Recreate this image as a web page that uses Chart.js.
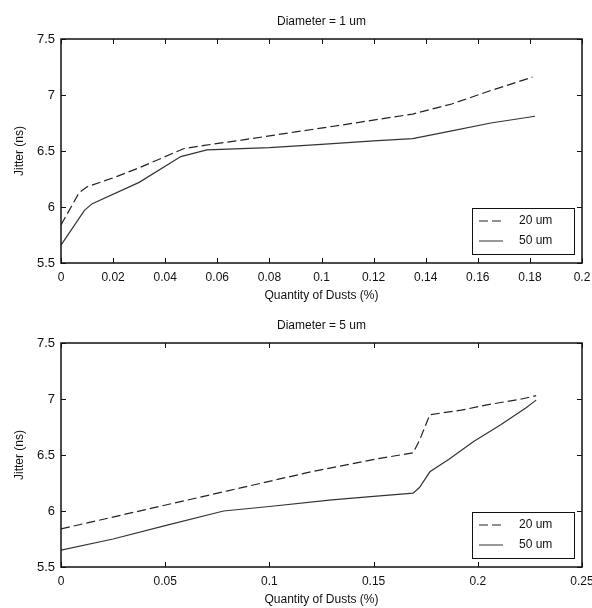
<html>
  <head>
    <title>Jitter vs Quantity of Dusts</title>
    <style>
      body {
        margin: 0;
        background: white;
        font-family: "Liberation Sans", Arial, sans-serif;
      }
      .plot {
        position: relative;
        width: 592px;
        height: 304px;
      }
    </style>
  </head>
  <body>
    <div class="plot"><canvas id="chartTop"></canvas></div>
    <div class="plot"><canvas id="chartBottom"></canvas></div>
    <script src="https://cdn.jsdelivr.net/npm/chart.js@4/dist/chart.umd.min.js"></script>
    <script>
      const seriesNames = ['20 um', '50 um'];
      const yTicks = [5.5, 6, 6.5, 7, 7.5];
      const yTickLabels = ['5.5', '6', '6.5', '7', '7.5'];

      // Diameter = 1 um
      const topXTicks = [0, 0.02, 0.04, 0.06, 0.08, 0.1, 0.12, 0.14, 0.16, 0.18, 0.2];
      const topXTickLabels = ['0', '0.02', '0.04', '0.06', '0.08', '0.1', '0.12', '0.14', '0.16', '0.18', '0.2'];
      const topX20 = [0, 0.007, 0.01, 0.02, 0.03, 0.047, 0.055, 0.07, 0.09, 0.11, 0.135, 0.15, 0.165, 0.181];
      const topY20 = [5.84, 6.13, 6.18, 6.26, 6.35, 6.52, 6.55, 6.6, 6.67, 6.74, 6.83, 6.92, 7.04, 7.16];
      const topX50 = [0, 0.009, 0.012, 0.03, 0.046, 0.056, 0.08, 0.1, 0.12, 0.135, 0.15, 0.165, 0.182];
      const topY50 = [5.66, 5.97, 6.03, 6.22, 6.45, 6.51, 6.53, 6.56, 6.59, 6.61, 6.68, 6.75, 6.81];

      // Diameter = 5 um
      const botXTicks = [0, 0.05, 0.1, 0.15, 0.2, 0.25];
      const botXTickLabels = ['0', '0.05', '0.1', '0.15', '0.2', '0.25'];
      const botX20 = [0, 0.04, 0.08, 0.12, 0.153, 0.169, 0.172, 0.177, 0.192, 0.205, 0.221, 0.228];
      const botY20 = [5.84, 6.01, 6.18, 6.35, 6.47, 6.52, 6.63, 6.86, 6.9, 6.95, 7.0, 7.03];
      const botX50 = [0, 0.025, 0.05, 0.078, 0.1, 0.13, 0.15, 0.169, 0.172, 0.177, 0.186, 0.198, 0.211, 0.223, 0.228];
      const botY50 = [5.65, 5.75, 5.87, 6.0, 6.04, 6.1, 6.13, 6.16, 6.21, 6.35, 6.46, 6.62, 6.77, 6.92, 6.99];

      const font = '"Liberation Sans", Arial, sans-serif';
      const styles = [
        { dash: [9, 4], color: '#222' },
        { dash: [], color: '#333' }
      ];

      function pts(xs, ys) {
        return xs.map((x, i) => ({ x: x, y: ys[i] }));
      }

      // title, box with inward ticks, legend
      const decor = {
        id: 'decor',
        afterDraw(chart, args, opts) {
          const ctx = chart.ctx;
          const a = chart.chartArea;
          const xs = chart.scales.x, ys = chart.scales.y;
          ctx.save();
          ctx.strokeStyle = '#111';
          ctx.lineWidth = 1;
          // inner ticks
          xs.ticks.forEach(t => {
            const px = Math.round(xs.getPixelForValue(t.value)) + 0.5;
            ctx.beginPath();
            ctx.moveTo(px, a.bottom); ctx.lineTo(px, a.bottom - 5);
            ctx.moveTo(px, a.top); ctx.lineTo(px, a.top + 5);
            ctx.stroke();
          });
          ys.ticks.forEach(t => {
            const py = Math.round(ys.getPixelForValue(t.value)) + 0.5;
            ctx.beginPath();
            ctx.moveTo(a.left, py); ctx.lineTo(a.left + 5, py);
            ctx.moveTo(a.right, py); ctx.lineTo(a.right - 5, py);
            ctx.stroke();
          });
          // box
          ctx.lineWidth = 1.5;
          ctx.strokeRect(a.left, a.top, a.right - a.left, a.bottom - a.top);
          // title
          ctx.fillStyle = '#111';
          ctx.font = '12px ' + font;
          ctx.textAlign = 'center';
          ctx.textBaseline = 'middle';
          ctx.fillText(opts.title, (a.left + a.right) / 2, 22);
          // legend
          const bw = 102, bh = 46;
          const bx = a.right - 8 - bw, by = a.bottom - 9 - bh;
          ctx.fillStyle = 'white';
          ctx.fillRect(bx, by, bw, bh);
          ctx.lineWidth = 1;
          ctx.strokeRect(bx + 0.5, by + 0.5, bw, bh);
          chart.data.datasets.forEach((ds, i) => {
            const ly = by + 13 + i * 20;
            ctx.strokeStyle = ds.borderColor;
            ctx.setLineDash(ds.borderDash);
            ctx.beginPath();
            ctx.moveTo(bx + 7, ly); ctx.lineTo(bx + 31, ly);
            ctx.stroke();
            ctx.setLineDash([]);
            ctx.fillStyle = '#111';
            ctx.textAlign = 'left';
            ctx.fillText(ds.label, bx + 47, ly);
          });
          ctx.restore();
        }
      };

      function createChart(id, title, series, xTicks, xLabels) {
        new Chart(document.getElementById(id), {
          type: 'line',
          data: {
            datasets: series.map((s, i) => ({
              label: seriesNames[i],
              data: s,
              borderColor: styles[i].color,
              borderDash: styles[i].dash,
              borderWidth: 1.2,
              pointRadius: 0,
              tension: 0,
              fill: false
            }))
          },
          options: {
            responsive: true,
            maintainAspectRatio: false,
            animation: false,
            layout: { padding: { left: 0, right: 10, top: 39, bottom: 0 } },
            plugins: {
              legend: { display: false },
              tooltip: { enabled: false },
              decor: { title: title }
            },
            scales: {
              x: {
                type: 'linear',
                min: xTicks[0],
                max: xTicks[xTicks.length - 1],
                afterBuildTicks: s => { s.ticks = xTicks.map(v => ({ value: v })); },
                afterFit: s => { s.height = 41; s.paddingLeft = 0; s.paddingRight = 0; },
                grid: { display: false, drawTicks: false },
                border: { display: false },
                ticks: {
                  padding: 7,
                  color: '#111',
                  font: { family: font, size: 12 },
                  maxRotation: 0,
                  autoSkip: false,
                  callback: (v, i) => xLabels[i]
                },
                title: {
                  display: true,
                  text: 'Quantity of Dusts (%)',
                  color: '#111',
                  font: { family: font, size: 12 },
                  padding: { top: 0, bottom: 1 }
                }
              },
              y: {
                min: 5.5,
                max: 7.5,
                afterBuildTicks: s => { s.ticks = yTicks.map(v => ({ value: v })); },
                afterFit: s => { s.width = 61; s.paddingTop = 0; s.paddingBottom = 0; },
                grid: { display: false, drawTicks: false },
                border: { display: false },
                ticks: {
                  padding: 6,
                  color: '#111',
                  font: { family: font, size: 13 },
                  autoSkip: false,
                  callback: (v, i) => yTickLabels[i]
                },
                title: {
                  display: true,
                  text: 'Jitter (ns)',
                  color: '#111',
                  font: { family: font, size: 12 },
                  padding: { top: 12, bottom: 0 }
                }
              }
            }
          },
          plugins: [decor]
        });
      }

      createChart('chartTop', 'Diameter = 1 um',
        [pts(topX20, topY20), pts(topX50, topY50)], topXTicks, topXTickLabels);
      createChart('chartBottom', 'Diameter = 5 um',
        [pts(botX20, botY20), pts(botX50, botY50)], botXTicks, botXTickLabels);
    </script>
  </body>
</html>
